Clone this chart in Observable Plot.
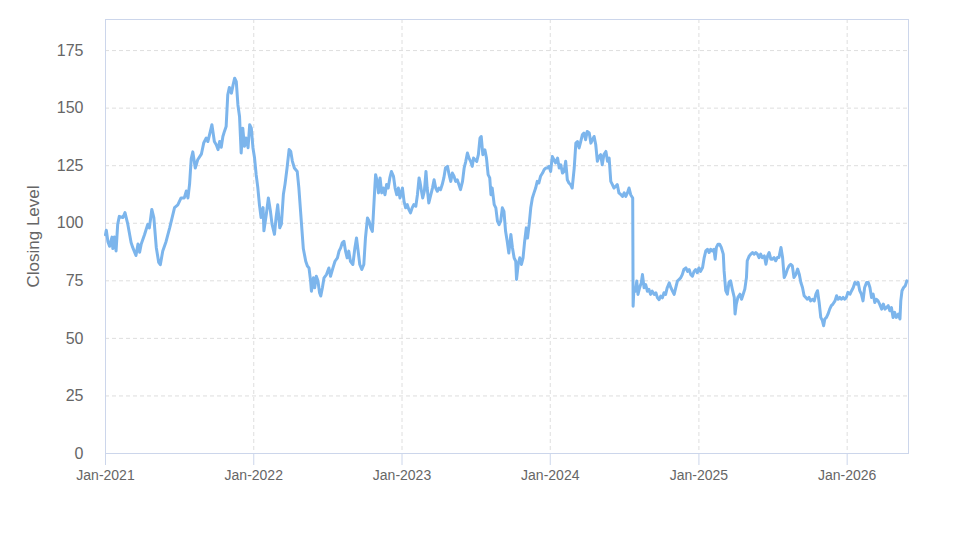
<!DOCTYPE html>
<html><head><meta charset="utf-8">
<script src="https://cdn.jsdelivr.net/npm/d3@7"></script>
<script src="https://cdn.jsdelivr.net/npm/@observablehq/plot@0.6"></script>
<style>body{margin:0;background:#fff;}</style>
</head><body><div id="chart"></div>
<script>
// Tick labels
const yTicks = [0, 25, 50, 75, 100, 125, 150, 175];
const xTickLabels = ["2021-01-01", "2022-01-01", "2023-01-01", "2024-01-01", "2025-01-01", "2026-01-01"];
const yTitle = "Closing Level";

// Closing levels, by year: [date, close]
const s2021 = [
["2021-01-01",95],["2021-01-03",97],["2021-01-07",92],["2021-01-11",90],["2021-01-17",94],["2021-01-19",89],["2021-01-23",94],["2021-01-27",88],["2021-01-31",99.5],["2021-02-04",103],["2021-02-13",102.5],["2021-02-18",104.6],["2021-02-25",99.5],["2021-03-05",91.6],["2021-03-09",89.5],["2021-03-17",86],["2021-03-22",91],["2021-03-26",87.4],["2021-03-30",91],["2021-04-07",95],["2021-04-15",99.5],["2021-04-19",98],["2021-04-25",106],["2021-04-30",102.5],["2021-05-06",89.5],["2021-05-12",83],["2021-05-16",82],["2021-05-22",88],["2021-05-30",92],["2021-06-08",98],["2021-06-20",106.8],["2021-06-28",108],["2021-07-06",111],["2021-07-14",111],["2021-07-19",114],["2021-07-23",111],["2021-07-27",117],["2021-07-31",128],["2021-08-04",131],["2021-08-10",124],["2021-08-16",127.6],["2021-08-25",130],["2021-08-31",135],["2021-09-06",137],["2021-09-10",135.5],["2021-09-17",140.6],["2021-09-20",142.8],["2021-09-26",135.5],["2021-10-01",134],["2021-10-05",132],["2021-10-09",135.5],["2021-10-13",133],["2021-10-17",137.7],["2021-10-21",140],["2021-10-25",142],["2021-10-29",155.8],["2021-11-02",159],["2021-11-07",156.5],["2021-11-11",160],["2021-11-15",163],["2021-11-19",161.5],["2021-11-23",151.4],["2021-11-27",146.4],["2021-12-01",130.5],["2021-12-05",141.3],["2021-12-09",133.4],["2021-12-13",137],["2021-12-18",132.8],["2021-12-22",142.8],["2021-12-26",141.3],["2021-12-30",132.8]
];
const s2022 = [
["2022-01-03",128.3],["2022-01-07",121],["2022-01-11",115.5],["2022-01-15",108],["2022-01-19",102.5],["2022-01-24",106.8],["2022-01-26",96.7],["2022-02-01",104],["2022-02-06",111],["2022-02-11",105.3],["2022-02-15",99.6],["2022-02-21",95.2],["2022-02-25",102.5],["2022-03-01",108],["2022-03-06",98],["2022-03-10",99.6],["2022-03-15",112.6],["2022-03-19",117],["2022-03-24",124],["2022-03-29",132],["2022-04-02",131.3],["2022-04-06",127],["2022-04-11",124],["2022-04-18",122.5],["2022-04-22",115.5],["2022-04-28",101],["2022-05-03",89],["2022-05-09",83.5],["2022-05-13",81.4],["2022-05-17",80.6],["2022-05-21",74.9],["2022-05-23",70.5],["2022-05-28",76.3],["2022-05-31",72],["2022-06-04",77],["2022-06-08",75],["2022-06-12",69.8],["2022-06-15",68.4],["2022-06-19",72],["2022-06-23",76.3],["2022-06-29",77.7],["2022-07-05",80.6],["2022-07-09",77],["2022-07-15",80.6],["2022-07-20",83.5],["2022-07-26",85],["2022-07-30",87.9],["2022-08-03",89.3],["2022-08-07",91.5],["2022-08-11",92.2],["2022-08-15",87.9],["2022-08-19",85],["2022-08-23",87.9],["2022-08-27",83.5],["2022-09-02",82.1],["2022-09-07",89.3],["2022-09-11",93.6],["2022-09-15",87.9],["2022-09-19",82.1],["2022-09-24",79.9],["2022-09-29",82.1],["2022-10-03",93.6],["2022-10-08",102.3],["2022-10-12",100.9],["2022-10-16",98],["2022-10-20",96.5],["2022-10-22",102.3],["2022-10-26",115.3],["2022-10-28",121.1],["2022-11-01",118.2],["2022-11-04",113.2],["2022-11-08",119.7],["2022-11-12",113.2],["2022-11-16",115.3],["2022-11-20",112.4],["2022-11-24",116.8],["2022-11-28",115.3],["2022-12-02",119.7],["2022-12-06",122.5],["2022-12-11",120.4],["2022-12-15",115.3],["2022-12-19",112.4],["2022-12-23",115.3],["2022-12-27",111]
];
const s2023 = [
["2023-01-02",115.3],["2023-01-06",109.5],["2023-01-10",106.7],["2023-01-14",108.1],["2023-01-18",105.9],["2023-01-22",104.5],["2023-01-26",106.7],["2023-01-30",108.1],["2023-02-04",107.4],["2023-02-08",112.4],["2023-02-12",119.7],["2023-02-14",118.2],["2023-02-18",113.9],["2023-02-21",111],["2023-02-25",113.9],["2023-03-01",122.5],["2023-03-04",115.3],["2023-03-08",108.8],["2023-03-13",112.4],["2023-03-17",115.3],["2023-03-21",118.9],["2023-03-25",115.3],["2023-03-29",113.9],["2023-04-02",115.3],["2023-04-06",114.6],["2023-04-10",116.8],["2023-04-14",119.7],["2023-04-18",124],["2023-04-23",124.7],["2023-04-27",121.1],["2023-05-01",118.2],["2023-05-05",121.8],["2023-05-09",120.4],["2023-05-13",118.2],["2023-05-17",118.9],["2023-05-21",116.8],["2023-05-25",114.6],["2023-05-30",118.2],["2023-06-03",124],["2023-06-07",126.9],["2023-06-11",130.5],["2023-06-15",128.3],["2023-06-19",126.9],["2023-06-23",124.7],["2023-06-26",128.3],["2023-06-30",127.6],["2023-07-04",126.9],["2023-07-08",129.8],["2023-07-12",137],["2023-07-15",137.7],["2023-07-19",129.8],["2023-07-24",131.9],["2023-07-28",128.3],["2023-08-01",121.1],["2023-08-05",119.7],["2023-08-08",112.4],["2023-08-11",115.3],["2023-08-16",108.1],["2023-08-20",106.7],["2023-08-24",100.9],["2023-08-28",99.4],["2023-09-01",100.9],["2023-09-05",106.7],["2023-09-09",105.2],["2023-09-13",96.5],["2023-09-17",92.2],["2023-09-21",87.1],["2023-09-26",95.1],["2023-09-30",89.3],["2023-10-04",85],["2023-10-08",83.5],["2023-10-10",75.6],["2023-10-14",82.1],["2023-10-18",85],["2023-10-22",82.1],["2023-10-26",85],["2023-10-30",92.2],["2023-11-03",98],["2023-11-06",93.6],["2023-11-10",99.4],["2023-11-14",106.7],["2023-11-18",111],["2023-11-22",113.2],["2023-11-26",115.3],["2023-11-30",118.2],["2023-12-04",117.5],["2023-12-08",120.4],["2023-12-13",121.8],["2023-12-17",123.3],["2023-12-21",124],["2023-12-25",124],["2023-12-29",124.7]
];
const s2024 = [
["2024-01-02",122.5],["2024-01-06",129],["2024-01-10",127.6],["2024-01-14",126.2],["2024-01-19",128.3],["2024-01-23",124],["2024-01-27",125.4],["2024-01-31",121.8],["2024-02-04",122.5],["2024-02-08",126.9],["2024-02-12",118.9],["2024-02-16",117.5],["2024-02-20",116.8],["2024-02-24",115.3],["2024-02-29",124],["2024-03-04",134.8],["2024-03-08",135.5],["2024-03-12",132.7],["2024-03-16",135.5],["2024-03-20",138.4],["2024-03-24",139.2],["2024-03-28",136.3],["2024-04-01",139.9],["2024-04-06",139.2],["2024-04-10",134.8],["2024-04-14",136.3],["2024-04-18",137.7],["2024-04-22",134.1],["2024-04-26",126.9],["2024-04-30",129],["2024-05-04",129.8],["2024-05-08",125.4],["2024-05-12",129.8],["2024-05-17",131.2],["2024-05-21",126.9],["2024-05-25",128.3],["2024-05-29",118.2],["2024-06-02",116.8],["2024-06-06",115.3],["2024-06-10",116],["2024-06-14",116.8],["2024-06-18",113.2],["2024-06-23",112.4],["2024-06-27",111.7],["2024-07-01",113.2],["2024-07-05",111.7],["2024-07-09",113.2],["2024-07-13",115.3],["2024-07-17",112.4],["2024-07-22",111],["2024-07-23",64],["2024-07-25",72],["2024-07-29",70.5],["2024-08-01",74.9],["2024-08-04",69.1],["2024-08-08",72],["2024-08-12",74.1],["2024-08-15",77.7],["2024-08-19",72],["2024-08-23",73.4],["2024-08-27",70.5],["2024-08-31",71.3],["2024-09-04",69.1],["2024-09-08",70.5],["2024-09-13",69.1],["2024-09-17",69.8],["2024-09-21",67.6],["2024-09-25",66.8],["2024-09-29",68.4],["2024-10-03",67.6],["2024-10-07",69.8],["2024-10-11",69.1],["2024-10-15",72],["2024-10-20",74.1],["2024-10-24",72],["2024-10-28",70.5],["2024-11-01",69.1],["2024-11-05",72],["2024-11-09",74.9],["2024-11-13",75.6],["2024-11-17",76.3],["2024-11-21",77.7],["2024-11-25",79.9],["2024-11-30",80.6],["2024-12-04",79.1],["2024-12-08",79.9],["2024-12-12",77.7],["2024-12-16",77],["2024-12-20",79.1],["2024-12-24",79.9],["2024-12-28",78.5]
];
const s2025 = [
["2025-01-01",80.6],["2025-01-05",79.1],["2025-01-10",80.8],["2025-01-14",85.1],["2025-01-18",88],["2025-01-22",88.7],["2025-01-26",87.3],["2025-01-30",88.7],["2025-02-03",88],["2025-02-07",88.7],["2025-02-10",84.4],["2025-02-13",89.5],["2025-02-17",90.9],["2025-02-21",90.9],["2025-02-25",89.5],["2025-03-02",86.6],["2025-03-04",79.3],["2025-03-08",70.7],["2025-03-12",69.2],["2025-03-16",74.3],["2025-03-20",75],["2025-03-25",70.7],["2025-03-29",67.8],["2025-03-31",60.6],["2025-04-03",64.9],["2025-04-07",67.8],["2025-04-12",69.2],["2025-04-16",67],["2025-04-20",69.2],["2025-04-24",71.4],["2025-04-28",76.4],["2025-04-30",83.7],["2025-05-05",85.8],["2025-05-09",86.6],["2025-05-13",87.3],["2025-05-17",86.6],["2025-05-21",87.3],["2025-05-25",86.6],["2025-05-29",85.1],["2025-06-02",86.6],["2025-06-06",85.1],["2025-06-11",85.8],["2025-06-15",82.2],["2025-06-19",85.8],["2025-06-23",87.3],["2025-06-27",84.4],["2025-07-01",84.4],["2025-07-05",85.1],["2025-07-09",83.7],["2025-07-13",85.1],["2025-07-17",85.1],["2025-07-22",89.5],["2025-07-26",85.1],["2025-07-30",76.4],["2025-08-03",77.9],["2025-08-07",80.1],["2025-08-11",81.5],["2025-08-15",82.2],["2025-08-19",81.5],["2025-08-23",76.4],["2025-08-28",77.9],["2025-09-01",80.1],["2025-09-05",77.9],["2025-09-09",74.3],["2025-09-13",72.1],["2025-09-17",68.5],["2025-09-21",67.8],["2025-09-25",67],["2025-09-29",67.8],["2025-10-03",66.3],["2025-10-08",67],["2025-10-12",66.3],["2025-10-16",69.2],["2025-10-20",70.7],["2025-10-24",65.6],["2025-10-28",59.1],["2025-11-01",57.7],["2025-11-04",55.5],["2025-11-07",58.4],["2025-11-11",59.1],["2025-11-15",60.6],["2025-11-19",62.7],["2025-11-23",64.2],["2025-11-27",64.9],["2025-12-02",66.3],["2025-12-06",68.5],["2025-12-10",67],["2025-12-14",67.8],["2025-12-18",67],["2025-12-22",67.8],["2025-12-26",67],["2025-12-30",67.8]
];
const s2026 = [
["2026-01-03",70],["2026-01-08",69.2],["2026-01-12",70.7],["2026-01-16",72.1],["2026-01-20",74.3],["2026-01-24",73.6],["2026-01-28",74.3],["2026-02-01",70.7],["2026-02-05",69.2],["2026-02-09",66.3],["2026-02-13",72.1],["2026-02-18",74.3],["2026-02-22",74.3],["2026-02-26",72.1],["2026-03-02",67.8],["2026-03-06",69.2],["2026-03-10",65.6],["2026-03-14",67],["2026-03-18",66.3],["2026-03-22",64.9],["2026-03-27",62.7],["2026-03-31",64.9],["2026-04-04",62.7],["2026-04-08",63.4],["2026-04-12",64.2],["2026-04-16",62],["2026-04-20",63.4],["2026-04-24",59.1],["2026-04-28",61.3],["2026-05-02",59.1],["2026-05-07",60.6],["2026-05-11",58.4],["2026-05-13",66.3],["2026-05-16",70.7],["2026-05-20",72.1],["2026-05-24",72.8],["2026-05-28",75]
];

const parse = d3.utcParse("%Y-%m-%d");
const data = [...s2021, ...s2022, ...s2023, ...s2024, ...s2025, ...s2026]
  .map(([d, v]) => ({date: parse(d), close: v}));
const xTicks = xTickLabels.map(parse);

const chart = Plot.plot({
  width: 973,
  height: 547,
  marginLeft: 105,
  marginRight: 65,
  marginTop: 19,
  marginBottom: 94,
  style: {fontFamily: "'Liberation Sans', Arial, sans-serif", fontSize: "14px", color: "#666666", background: "#ffffff"},
  x: {type: "utc", domain: [parse("2021-01-01"), parse("2026-06-01")]},
  y: {domain: [0, 188.5]},
  marks: [
    Plot.gridY(yTicks.slice(1), {stroke: "#dedede", strokeOpacity: 1, strokeDasharray: "4,3"}),
    Plot.gridX(xTicks.slice(1), {stroke: "#dedede", strokeOpacity: 1, strokeDasharray: "4,3"}),
    Plot.frame({stroke: "#ccd6eb"}),
    Plot.axisY(yTicks, {tickSize: 0, tickPadding: 22, fontSize: 16, fill: "#666666", label: null}),
    Plot.axisX(xTicks, {tickSize: 12, tickPadding: 5, stroke: "#ccd6eb", fill: "#666666", fontSize: 14, tickFormat: d3.utcFormat("%b-%Y"), label: null}),
    Plot.text([yTitle], {frameAnchor: "left", textAnchor: "middle", dx: -72, rotate: -90, fontSize: 17, fill: "#666666"}),
    Plot.line(data, {x: "date", y: "close", stroke: "#7cb5ec", strokeWidth: 3, strokeLinejoin: "round", strokeLinecap: "round"})
  ]
});
document.getElementById("chart").appendChild(chart);
</script>
</body></html>
